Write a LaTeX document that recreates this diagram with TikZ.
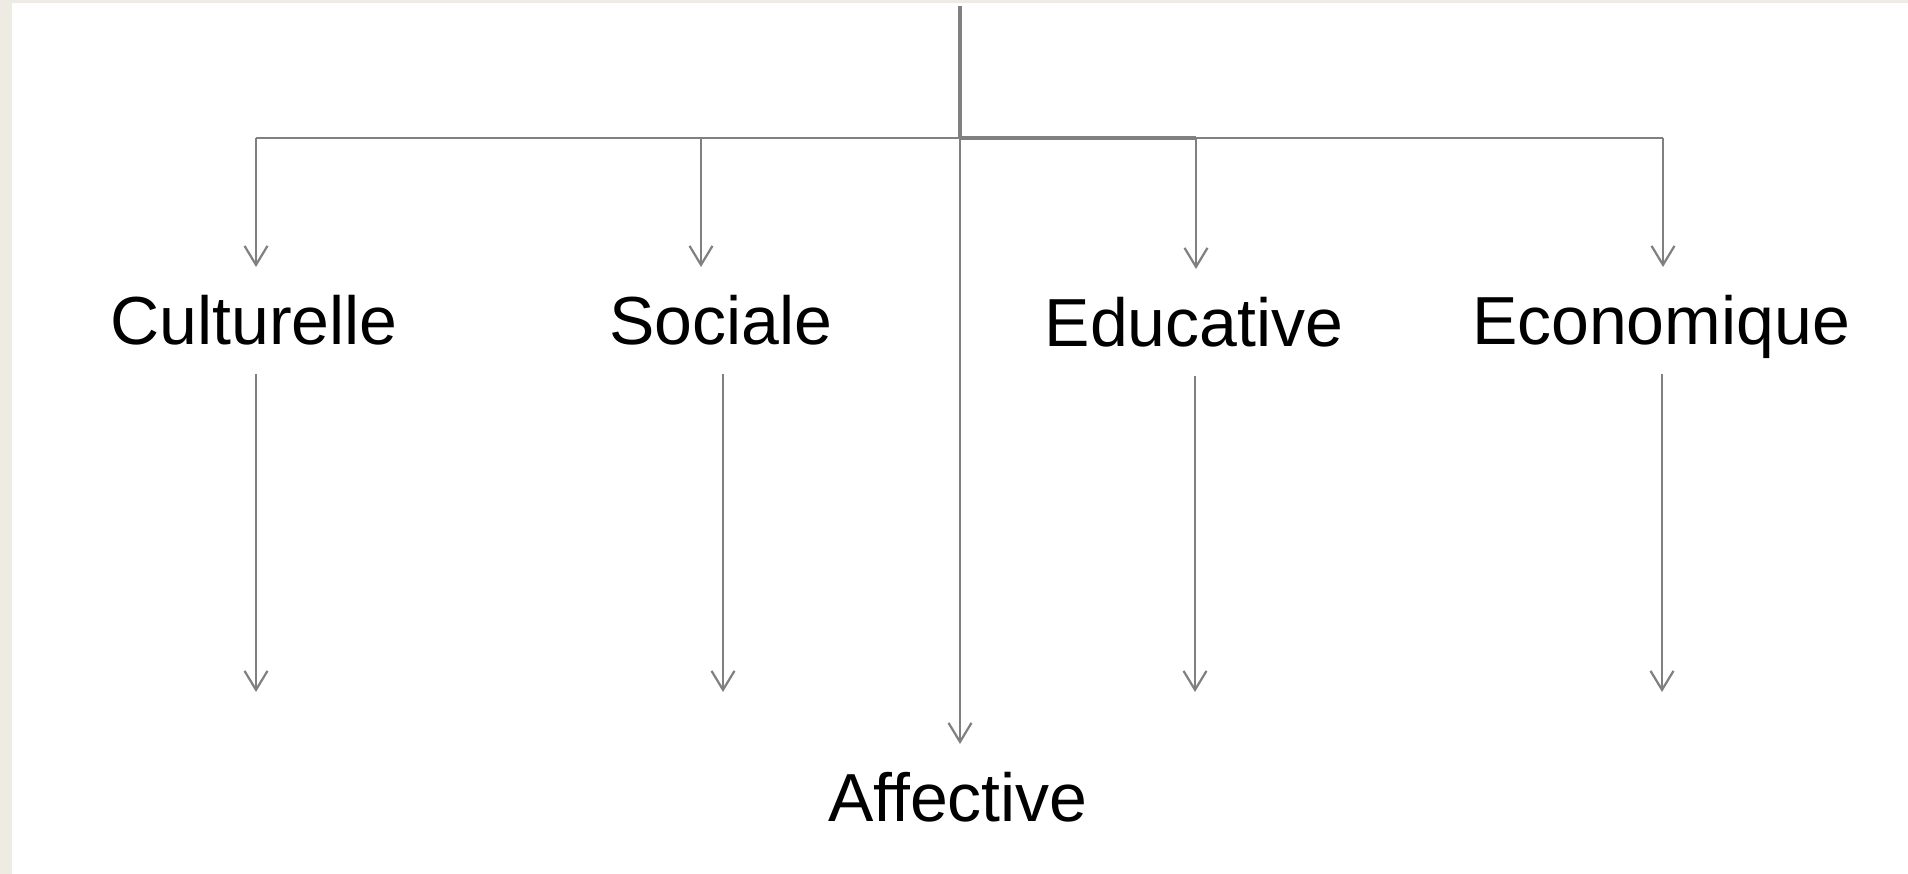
\documentclass[tikz,border=0pt]{standalone}
\usepackage{fontspec}
\setmainfont[Ligatures=NoCommon]{Liberation Sans}
\usetikzlibrary{arrows.meta}
\definecolor{beige}{RGB}{238,235,227}
\definecolor{lineclr}{RGB}{128,128,128}
\begin{document}
\begin{tikzpicture}[x=1pt,y=1pt,
  lbl/.style={anchor=base,inner sep=0pt,outer ysep=29pt,text height=49pt,text depth=0pt,font=\fontsize{68}{80}\selectfont},
  conn/.style={draw=lineclr,line width=2pt},
  thickconn/.style={draw=lineclr,line width=3.5pt},
  arr/.style={conn,-{Straight Barb[length=19pt,width=23pt,line width=2.2pt]}}]
\useasboundingbox (0,0) rectangle (1908,874);
\fill[beige] (0,0) rectangle (1908,874);
\fill[white] (12,0) rectangle (1908,871);
% labels
\node[lbl] (cult) at (254,529) {Culturelle};
\node[lbl] (soc) at (721,529) {Sociale};
\node[lbl] (edu) at (1194,527) {Educative};
\node[lbl] (eco) at (1661,529) {Economique};
\node[lbl] (aff) at (958,52) {Affective};
% coordinates
\coordinate (top) at (960,868);
\coordinate (bj) at (960,736);
\coordinate (b1) at (256,736);
\coordinate (b2) at (701,736);
\coordinate (b3) at (1196,736);
\coordinate (b4) at (1663,736);
\coordinate (e1) at (256,182);
\coordinate (e2) at (723,182);
\coordinate (e3) at (1195,182);
\coordinate (e4) at (1662,182);
% bar
\draw[conn] (b1) -- (b4);
\draw[thickconn] (bj) -- (b3);
\draw[thickconn] (top) -- (bj);
% upper arrows
\draw[arr] (b1) -- (b1 |- cult.north);
\draw[arr] (b2) -- (b2 |- soc.north);
\draw[arr] (b3) -- (b3 |- edu.north);
\draw[arr] (b4) -- (b4 |- eco.north);
\draw[arr] (bj) -- (bj |- aff.north);
% lower arrows
\draw[arr] (e1 |- cult.south) -- (e1);
\draw[arr] (e2 |- soc.south) -- (e2);
\draw[arr] (e3 |- edu.south) -- (e3);
\draw[arr] (e4 |- eco.south) -- (e4);
\end{tikzpicture}
\end{document}
